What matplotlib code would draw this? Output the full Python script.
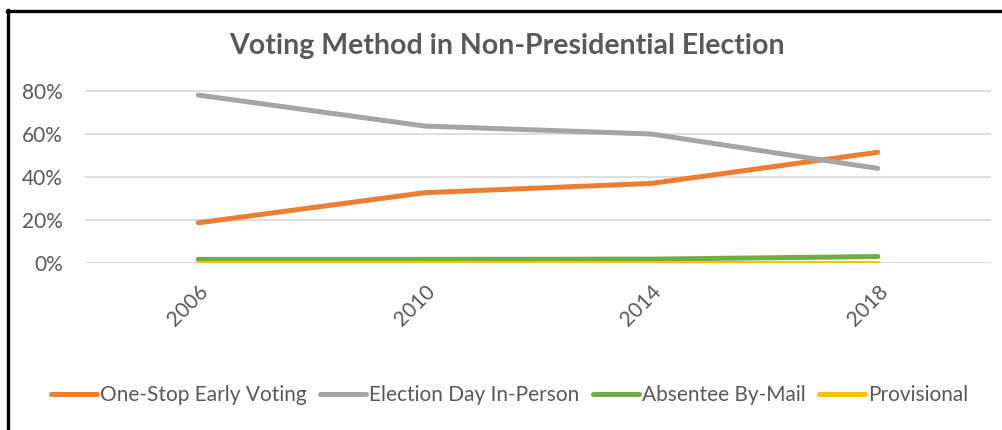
import matplotlib
matplotlib.use("Agg")
import matplotlib.pyplot as plt
from matplotlib.ticker import PercentFormatter, FixedLocator

years = ["2006", "2010", "2014", "2018"]
early_voting = [0.187, 0.327, 0.370, 0.515]
election_day = [0.781, 0.637, 0.600, 0.440]
absentee_mail = [0.017, 0.017, 0.018, 0.030]
provisional = [0.002, 0.002, 0.002, 0.002]

series = [
    ("One-Stop Early Voting", early_voting, "#ED7D31"),
    ("Election Day In-Person", election_day, "#A5A5A5"),
    ("Absentee By-Mail", absentee_mail, "#70AD47"),
    ("Provisional", provisional, "#FFC000"),
]

plt.rcParams["font.family"] = ["Lato", "DejaVu Sans"]
text_color = "#595959"

W, H = 1003, 430
fig = plt.figure(figsize=(W / 100, H / 100), dpi=100)
ax = fig.add_axes([85 / W, (H - 263) / H, (991 - 85) / W, (263 - 69.5) / H])

x = list(range(len(years)))
handles = []
for name, vals, color in series:
    (ln,) = ax.plot(x, vals, color=color, lw=3.6, solid_capstyle="round",
                    solid_joinstyle="round", label=name, zorder=3)
    handles.append(ln)

ax.set_xlim(-0.5, len(years) - 0.5)
ax.set_ylim(0, 0.9)
ax.yaxis.set_major_locator(FixedLocator([0, 0.2, 0.4, 0.6, 0.8]))
ax.yaxis.set_major_formatter(PercentFormatter(1.0, decimals=0))
ax.grid(axis="y", color="#D9D9D9", lw=1.2, zorder=0)
ax.set_xticks(x)
ax.set_xticklabels(years, rotation=45, ha="right", rotation_mode="anchor")
for s in ax.spines.values():
    s.set_visible(False)
ax.tick_params(axis="both", length=0, colors=text_color, labelsize=15)
ax.tick_params(axis="y", pad=16)
ax.tick_params(axis="x", pad=13)

fig.text(0.505, (H - 46) / H, "Voting Method in Non-Presidential Election",
         ha="center", va="center", fontsize=20.5, fontweight="bold", color=text_color)

fig.legend(handles=handles, loc="center", bbox_to_anchor=(0.508, (H - 395) / H),
           ncol=4, frameon=False, fontsize=15, labelcolor=text_color,
           handlelength=2.2, handletextpad=0.15, columnspacing=0.65)

# outer chart frame (left and top edges)
fig.add_artist(plt.Line2D([8.5 / W, 8.5 / W], [0, (H - 10) / H], color="black", lw=2.4,
                          transform=fig.transFigure))
fig.add_artist(plt.Line2D([7.3 / W, 1], [(H - 10.5) / H, (H - 10.5) / H], color="black", lw=2.4,
                          transform=fig.transFigure))

fig.savefig("out.png", dpi=100)
